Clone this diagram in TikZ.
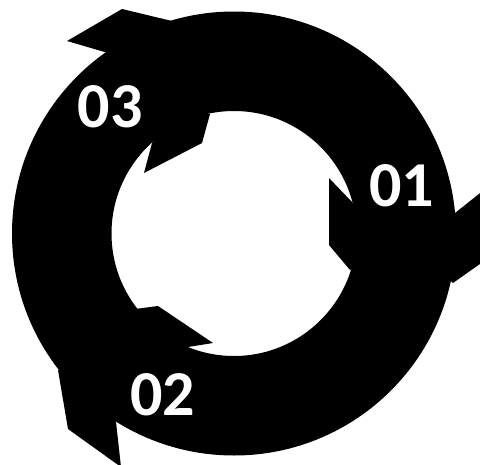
\documentclass[tikz,border=0pt]{standalone}
\usepackage{fontspec}
\setmainfont{Carlito}
\begin{document}
\begin{tikzpicture}[x=1pt,y=-1pt,
  lbl/.style={text=white, font=\bfseries\fontsize{64}{64}\selectfont, inner sep=0pt},
  blk/.style={fill=black, draw=none}]
\useasboundingbox (0,0) rectangle (480,464);
\clip (0,0) rectangle (480,464);
\fill[white] (0,0) rectangle (480,464);
\coordinate (c) at (234,233.5);
% ring
\fill[black, even odd rule] (c) circle[radius=222pt] (c) circle[radius=122.5pt];
% outer arrow barbs
\path[blk] (455,213) -- (494,182) -- (494,254) -- (453,283) -- (420,250) -- (420,215) -- cycle;
\path[blk] (116,422) -- (121,467) -- (68,429) -- (58,370) -- (90,380) -- cycle;
\path[blk] (108,53) -- (67,41) -- (122,9) -- (172,21) -- (150,60) -- cycle;
% inner arrow barbs
\path[blk] (352,202) -- (329,178) -- (329,245) -- (350,270) -- (380,240) -- cycle;
\path[blk] (188,347) -- (213,343) -- (158,306) -- (135,309) -- (160,340) -- cycle;
\path[blk] (152,143) -- (144,173) -- (202,143) -- (210,114) -- (180,110) -- cycle;
% labels
\node[lbl] (n01) at (401.5,186) {01};
\node[lbl] (n02) at (162.5,394.5) {02};
\node[lbl] (n03) at (110,106.5) {03};
\end{tikzpicture}
\end{document}
